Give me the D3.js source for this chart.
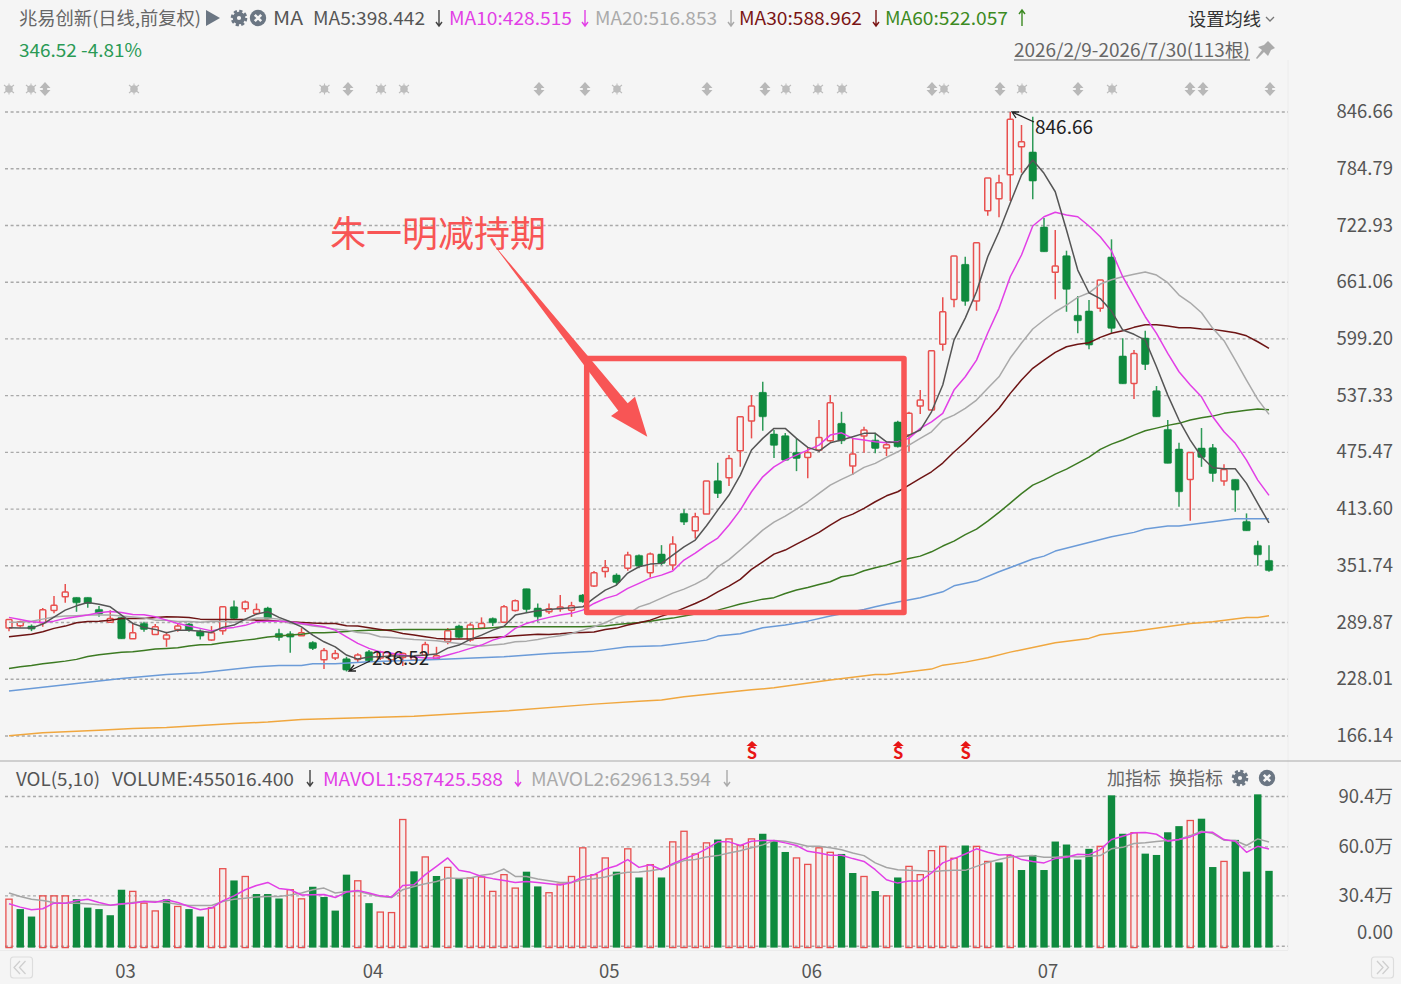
<!DOCTYPE html>
<html>
<head>
<meta charset="utf-8">
<script src="https://cdn.jsdelivr.net/npm/d3@7"></script>
<style>
  html, body { margin: 0; padding: 0; background: #f5f5f5; overflow: hidden; }
</style>
</head>
<body>
<div id="dataviz"></div>
<script>
// daily candles, values
const opens = [283.8,286.3,286.0,289.6,303.1,317.9,317.3,317.3,304.2,290.3,
  295.5,272.2,288.9,276.9,271.8,282.4,288.2,280.5,270.7,280.8,
  307.0,304.9,299.8,305.6,278.0,277.6,275.4,268.2,249.2,251.1,
  250.3,249.7,257.9,251.1,248.9,251.8,248.9,254.3,250.3,269.3,
  286.0,270.7,283.8,294.4,290.3,302.9,326.7,305.6,301.7,304.9,
  303.4,319.8,329.6,345.6,341.6,349.2,363.1,344.3,364.5,352.5,
  408.9,389.9,408.2,444.5,447.7,477.2,509.6,540.9,495.4,493.6,
  475.4,470.0,478.0,488.1,507.1,460.5,493.2,488.8,480.1,508.5,
  494.3,526.0,521.6,593.3,642.3,680.5,640.5,739.0,752.1,778.3,
  808.8,803.0,721.2,671.8,689.9,624.9,629.6,632.5,688.5,580.5,
  550.7,600.1,542.6,500.5,479.0,446.0,480.1,480.5,444.2,446.0,
  400.2,374.0,357.6];
const closes = [293.3,290.7,282.7,303.8,308.6,323.1,311.4,310.7,299.1,294.4,
  272.2,278.7,282.4,285.2,276.2,286.0,281.6,275.1,278.7,307.0,
  294.4,312.2,304.2,294.4,273.6,274.0,278.7,261.7,259.5,256.2,
  238.0,254.4,248.1,257.6,254.4,256.2,252.1,266.0,253.6,280.8,
  273.7,287.1,288.9,289.6,307.0,313.6,304.2,296.1,304.9,306.7,
  308.1,312.5,344.1,349.9,333.6,363.4,351.4,364.5,354.4,375.4,
  399.4,405.2,444.2,430.7,468.9,514.3,526.0,514.3,483.1,467.0,
  468.9,475.4,491.8,529.6,488.1,473.6,499.8,479.8,483.8,481.6,
  518.0,532.5,586.3,628.8,689.6,640.2,704.1,774.7,769.5,838.7,
  814.3,771.4,694.3,678.7,653.3,619.0,592.5,663.4,610.7,550.3,
  583.4,571.4,514.3,463.5,432.5,475.4,470.0,452.5,456.9,434.3,
  390.0,363.8,346.52];
const highs = [293.3,291.8,287.8,305.6,318.7,331.8,317.3,317.3,307.8,303.4,
  295.5,289.6,290.7,288.2,279.8,288.9,289.6,282.4,286.0,307.0,
  314.0,314.0,310.7,307.0,283.0,280.5,283.8,269.6,262.0,259.8,
  252.5,256.5,259.8,259.0,256.5,257.3,253.0,268.8,263.4,283.8,
  287.4,289.3,295.5,295.5,308.9,315.1,326.7,310.7,310.7,319.8,
  312.5,321.0,346.0,358.0,343.5,367.0,364.0,366.2,374.3,384.1,
  413.3,409.5,444.2,464.1,472.5,514.3,537.9,552.5,499.8,496.5,
  490.7,480.1,510.7,537.9,519.7,491.0,503.4,496.8,486.0,509.9,
  519.7,543.4,586.3,644.5,689.6,688.8,704.1,774.7,778.3,846.66,
  832.5,841.5,731.0,717.9,695.4,645.9,641.6,663.4,707.8,599.8,
  587.0,608.1,547.8,510.7,485.9,475.4,502.0,484.5,462.4,446.0,
  408.9,379.0,374.3];
const lows = [280.5,284.6,280.5,285.2,299.9,311.4,301.6,305.9,296.1,289.6,
  272.2,272.2,279.8,276.2,263.4,279.8,279.8,271.5,269.9,276.5,
  293.5,301.3,298.0,294.4,269.9,256.8,275.4,259.8,239.1,248.9,
  236.52,245.9,246.7,249.0,247.0,242.4,248.0,253.3,250.3,266.3,
  272.6,268.8,283.0,286.0,289.6,302.0,300.2,290.7,299.1,301.6,
  296.1,311.5,328.5,339.1,330.7,346.3,349.2,339.1,352.5,347.1,
  396.2,381.6,408.2,425.6,438.7,459.7,490.7,499.0,469.2,466.0,
  455.0,447.1,476.1,487.0,484.5,450.7,475.0,474.4,471.4,480.9,
  476.1,517.2,521.6,586.3,633.6,635.4,629.9,733.6,731.8,749.6,
  780.4,751.4,694.3,642.4,628.8,605.3,587.8,628.8,605.9,550.3,
  533.6,565.2,514.3,463.5,416.1,400.8,459.7,443.4,439.0,410.6,
  390.0,351.8,345.2];

// moving averages
const ma5 = [284.3,284.0,283.8,288.2,295.8,303.4,308.1,311.8,309.9,307.0,
  298.0,288.9,284.6,282.4,278.7,281.6,281.6,280.5,279.1,284.6,
  287.1,293.6,299.1,301.6,295.5,290.7,285.2,276.2,268.9,263.4,
  254.4,250.0,252.2,252.7,253.3,253.3,253.6,254.4,255.5,262.0,
  265.3,271.5,276.2,281.6,285.9,298.0,300.5,302.7,304.2,305.3,
  305.9,307.0,316.5,325.2,330.7,343.8,350.7,353.6,354.4,363.4,
  372.5,379.8,395.4,412.5,428.9,450.7,478.0,490.7,501.6,501.6,
  490.7,480.9,476.9,485.9,488.9,492.5,496.2,496.2,487.0,485.9,
  494.3,499.8,519.7,548.9,597.9,621.9,650.6,688.8,716.1,747.4,
  777.9,794.3,779.8,759.7,717.9,674.3,649.5,643.2,629.6,608.9,
  604.2,597.9,568.8,537.9,510.7,488.9,470.7,458.7,457.6,457.6,
  441.6,419.8,398.442];
const ma10 = [295.5,293.3,290.7,290.0,291.4,294.4,296.1,298.0,300.5,302.0,
  300.9,298.7,298.3,296.1,292.5,288.9,286.0,283.5,280.8,283.5,
  284.6,286.8,290.7,291.4,291.4,290.7,288.9,287.1,285.2,281.6,
  274.3,267.1,261.7,257.9,256.5,254.4,252.5,251.1,251.1,254.4,
  257.9,261.7,265.3,270.7,274.3,283.5,288.9,292.5,295.5,298.0,
  299.9,303.4,310.7,316.2,319.8,327.1,332.6,338.3,341.6,346.0,
  358.0,365.6,374.3,382.0,396.2,412.5,432.5,448.8,459.7,467.0,
  472.5,477.9,483.4,494.3,496.8,490.7,488.9,487.0,485.9,487.0,
  490.7,501.6,508.8,518.0,543.4,557.9,576.1,605.6,632.5,667.0,
  690.7,722.3,732.4,737.3,734.3,732.4,722.3,710.6,695.2,667.0,
  645.2,623.4,605.3,583.4,563.4,548.9,536.1,514.3,497.9,485.3,
  467.0,445.2,428.515];
const ma20 = [290.3,290.3,291.4,293.6,295.8,296.9,297.4,298.0,298.0,298.0,
  296.9,295.8,294.7,292.5,292.5,291.1,290.9,290.3,290.9,290.9,
  290.3,292.5,294.7,294.7,293.6,288.9,288.2,286.0,284.6,282.7,
  281.6,279.1,278.0,274.3,273.6,272.6,271.5,270.7,269.9,268.5,
  267.1,265.3,264.2,265.3,266.4,268.9,269.6,271.5,273.7,275.4,
  278.0,281.6,285.2,289.6,295.5,299.1,307.0,311.0,316.5,322.0,
  326.3,331.8,338.3,350.5,358.5,369.0,379.8,390.7,399.4,406.0,
  413.6,421.6,430.7,439.8,446.0,451.8,459.1,463.5,470.0,476.1,
  483.4,490.7,497.9,510.7,516.1,523.5,532.5,545.3,557.9,578.3,
  594.7,610.0,619.8,628.8,636.1,644.5,649.5,659.0,663.7,667.0,
  669.6,672.1,668.8,660.5,647.0,638.6,627.7,610.7,597.2,576.1,
  554.3,533.3,516.853];
const ma30 = [274.3,275.8,277.2,279.8,283.5,286.0,289.6,291.1,291.4,292.5,
  294.4,294.4,294.4,295.5,296.1,295.8,295.5,293.6,293.3,293.3,
  293.3,293.3,292.5,292.5,291.4,290.7,290.0,289.3,288.9,288.9,
  286.3,286.0,284.1,282.4,280.8,278.0,276.2,274.3,272.6,271.8,
  271.8,272.1,272.9,273.6,274.3,275.4,276.2,277.2,276.9,277.6,
  278.7,279.1,279.5,282.4,283.8,287.1,289.6,292.5,296.9,300.5,
  305.6,310.7,316.2,323.4,329.6,336.9,347.8,356.1,364.5,368.9,
  375.4,381.6,388.2,396.2,403.5,408.1,414.4,421.6,428.1,432.5,
  439.8,447.1,454.3,463.8,475.8,486.7,498.7,510.7,523.5,539.8,
  554.3,567.1,576.1,584.5,590.6,593.3,595.0,600.9,605.3,608.1,
  611.8,614.6,614.6,613.2,611.4,611.4,610.0,609.6,607.8,605.9,
  602.6,596.1,588.962];
const ma60 = [239.8,241.6,243.1,244.9,246.4,247.8,249.7,252.9,254.7,256.2,
  257.6,257.9,259.5,260.9,261.7,262.3,264.2,265.6,266.0,267.8,
  269.3,270.7,272.1,274.0,275.1,276.2,277.2,278.7,278.7,279.4,
  280.2,280.8,281.6,281.6,282.1,282.4,282.4,282.4,282.4,282.4,
  282.7,282.7,283.3,284.3,285.2,285.2,285.2,285.2,285.2,285.2,
  285.2,285.2,285.7,286.0,287.8,288.9,290.0,291.4,293.1,294.7,
  296.9,299.1,301.3,303.4,306.7,310.0,312.7,315.4,317.0,321.6,
  325.3,328.2,331.4,334.3,339.8,341.6,346.3,349.6,352.5,356.1,
  359.8,362.3,367.0,373.3,378.7,385.8,391.8,400.5,410.0,420.1,
  430.5,439.8,445.2,451.8,457.2,463.8,470.3,478.7,484.5,488.9,
  494.3,499.0,501.9,504.9,507.1,510.7,513.2,515.0,518.0,519.7,
  521.3,522.7,522.057];

// the two slow lines are smooth, read at these days only
const maBlueDays = [0,4,6,8,10,14,17,22,24,26,27,29,32,38,44,48,52,55,58,62,63,65,67,69,71,73,76,77,78,79,81,83,84,86,88,91,92,93,98,100,101,103,104,107,109,112];
const maBlue = [215.1,220.8,223.5,226.0,228.9,233.3,235.0,241.6,243.1,243.1,244.9,244.9,247.0,249.7,252.5,256.2,258.7,263.4,264.5,270.7,275.1,277.6,284.1,287.1,291.4,296.9,304.2,307.0,309.9,312.2,316.9,323.4,329.9,335.1,345.2,359.1,362.3,367.8,383.4,388.2,391.8,395.1,395.1,399.8,403.0,403.0];
const maOrangeDays = [0,3,6,8,11,14,17,20,23,26,29,36,44,52,56,58,60,66,68,73,77,78,82,83,85,87,89,91,93,96,97,100,105,107,110,111,112];
const maOrange = [166.3,169.6,171.4,172.5,174.4,175.5,177.7,179.8,181.3,184.2,185.3,187.8,193.3,200.9,204.1,205.3,208.9,216.5,218.7,227.1,233.3,233.3,239.1,243.4,246.7,251.4,257.6,262.7,267.8,272.6,276.5,280.5,288.9,290.7,295.5,295.5,297.2];

// volume in 万, 1 = red bar, 0 = green bar
const volumes = [28.4,22.4,17.9,30.4,30.4,30.4,28.4,23.3,22.4,18.7,
  34.1,33.1,26.0,21.3,28.4,24.0,22.4,17.9,23.2,46.8,
  39.7,42.1,31.5,31.5,28.8,34.1,28.6,35.9,29.7,21.5,
  43.2,39.5,26.0,20.6,20.3,76.5,45.2,53.9,42.4,47.6,
  40.6,41.2,41.8,33.1,43.2,35.1,45.0,36.1,32.3,37.5,
  42.1,59.4,43.2,53.3,45.0,58.8,41.5,49.2,41.5,63.0,
  69.4,55.7,62.4,64.4,64.8,60.8,64.8,67.9,63.8,56.9,
  53.3,49.4,59.4,56.7,55.7,44.2,42.1,33.3,30.4,41.5,
  48.2,43.2,57.7,60.3,53.1,60.8,60.3,51.2,50.6,54.7,
  46.0,55.1,46.0,63.2,61.4,52.3,58.8,60.3,91.1,67.9,
  68.5,55.9,55.1,68.8,72.5,75.9,77.0,47.8,51.2,64.2,
  45.0,91.7,45.5];
const volUp = [1,0,0,1,1,1,0,0,0,0,
  0,1,1,1,0,1,0,0,1,1,
  0,1,0,0,0,1,1,0,0,0,
  0,1,0,1,1,1,0,1,0,1,
  0,1,1,1,1,1,0,0,1,1,
  1,1,1,1,0,1,0,1,0,1,
  1,1,1,0,1,1,1,0,0,0,
  1,1,1,1,0,0,1,0,1,0,
  1,1,1,1,1,0,1,1,0,1,
  0,0,0,0,0,0,0,1,0,0,
  1,0,0,0,0,1,0,0,1,0,
  0,0,0];
const mavol1 = [25.6,23.6,22.0,22.6,26.0,26.0,27.4,28.4,26.4,24.8,
  25.6,26.0,27.0,26.6,28.0,26.4,24.0,22.0,23.0,27.4,
  30.4,34.1,36.7,38.5,34.9,34.1,30.9,31.0,31.2,29.4,
  32.7,33.7,32.1,30.4,29.7,36.7,37.1,43.2,48.2,53.3,
  45.8,44.6,42.1,40.8,39.7,38.5,39.1,38.5,37.7,36.9,
  38.5,41.8,43.2,46.6,48.6,52.3,47.6,49.2,46.2,49.8,
  52.7,55.3,58.8,63.0,63.0,60.8,63.4,63.8,63.8,62.4,
  60.8,57.3,56.3,54.9,54.9,52.9,51.2,46.2,40.1,38.1,
  39.4,39.4,44.2,50.3,52.9,55.7,58.8,56.7,55.1,55.3,
  52.3,51.2,50.3,52.9,53.7,55.5,55.3,58.3,64.4,66.4,
  68.5,68.6,67.6,63.4,64.4,66.0,68.8,68.8,64.4,63.4,
  56.7,60.3,58.74];
const mavol2 = [32.1,30.0,28.4,27.6,26.4,26.0,26.0,25.6,25.0,24.8,
  25.4,26.4,27.2,27.0,26.4,25.4,24.6,24.6,24.6,27.0,
  28.4,29.0,29.7,30.0,30.0,30.9,32.1,34.1,35.1,32.1,
  33.1,33.1,31.5,30.0,29.4,34.1,36.1,37.7,39.1,41.2,
  40.9,41.2,42.8,43.8,46.6,42.1,42.1,40.6,39.5,38.5,
  38.5,40.1,40.8,41.8,43.6,44.6,44.8,45.6,46.6,49.2,
  51.7,52.3,53.9,54.7,56.3,57.7,59.4,61.2,63.8,63.4,
  62.0,60.3,60.3,59.4,58.3,56.3,54.7,50.3,47.5,46.2,
  45.8,45.6,45.0,45.6,45.8,45.8,48.2,50.6,52.3,53.9,
  54.3,54.7,53.7,53.7,54.3,53.9,54.3,54.7,58.8,59.7,
  62.0,62.4,63.2,63.8,64.4,66.8,69.4,68.0,64.0,63.8,
  60.8,64.8,62.96];

// axis labels
const priceTicks = [846.66,784.79,722.93,661.06,599.20,537.33,475.47,413.60,351.74,289.87,228.01,166.14];
const volTicks = [90.4,60.0,30.4,0];
const monthLabels = ["03","04","05","06","07"];
const monthDays = [10,32,53,71,92];
// days with the red S flags
const sFlagDays = [66,79,85];

const W = 1401, H = 984;
const BG = "#f5f5f5", RED = "#e8504f", GREEN = "#0f8a3e", MARK = "#f85555", ICON = "#6b7683";
const FONT = "'Noto Sans CJK SC','Noto Sans',sans-serif";

const svg = d3.select("#dataviz").append("svg")
  .attr("width", W).attr("height", H)
  .style("display", "block")
  .style("font-family", FONT);
svg.append("rect").attr("width", W).attr("height", H).attr("fill", BG);

// scales
const x = d3.scaleLinear().domain([0, 112]).range([9, 1269]);
const y = d3.scaleLinear().domain([166.14, 846.66]).range([736, 112]);
const yVol = d3.scaleLinear().domain([0, 90.4]).range([946.2, 796.5]);
const days = d3.range(opens.length);

// panel frame lines
svg.append("line").attr("x1", 1288).attr("x2", 1288).attr("y1", 60).attr("y2", 950).attr("stroke", "#ececec");
svg.append("line").attr("x1", 0).attr("x2", W).attr("y1", 761).attr("y2", 761).attr("stroke", "#aaa").attr("stroke-width", 1.2);
svg.append("line").attr("x1", 0).attr("x2", 1288).attr("y1", 950.5).attr("y2", 950.5).attr("stroke", "#ebebeb");

// price axis and its dashed grid
const priceAxis = svg.append("g").attr("transform", "translate(1393,0)")
  .call(d3.axisRight(y).tickValues(priceTicks).tickSize(0).tickPadding(0).tickFormat(d3.format(".2f")));
priceAxis.select(".domain").remove();
priceAxis.selectAll("text").attr("text-anchor", "end").attr("font-size", 18.5).attr("fill", "#555").attr("font-family", FONT).attr("dy", "0.3em");

const volAxis = svg.append("g").attr("transform", "translate(1393,0)")
  .call(d3.axisRight(yVol).tickValues(volTicks).tickSize(0).tickPadding(0).tickFormat(d => d === 0 ? "0.00" : d.toFixed(1) + "万"));
volAxis.select(".domain").remove();
volAxis.selectAll("text").attr("text-anchor", "end").attr("font-size", 18.5).attr("fill", "#555").attr("font-family", FONT).attr("dy", "0.3em");
// the zero label sits above its line
volAxis.selectAll("text").filter(d => d === 0).attr("dy", "-0.4em");

svg.append("g").selectAll("line").data(priceTicks).join("line")
  .attr("x1", 5).attr("x2", 1288)
  .attr("y1", d => y(d)).attr("y2", d => y(d))
  .attr("stroke", "#a9a9a9").attr("stroke-width", 1.4).attr("stroke-dasharray", "3 2.6");
svg.append("g").selectAll("line").data(volTicks).join("line")
  .attr("x1", 5).attr("x2", 1288)
  .attr("y1", d => yVol(d)).attr("y2", d => yVol(d))
  .attr("stroke", "#a9a9a9").attr("stroke-width", 1.4).attr("stroke-dasharray", "3 2.6");

// month axis
const monthAxis = svg.append("g").attr("transform", "translate(3.5,959)")
  .call(d3.axisBottom(x).tickValues(monthDays).tickSize(0).tickPadding(0).tickFormat((d, i) => monthLabels[i]));
monthAxis.select(".domain").remove();
monthAxis.selectAll("text").attr("font-size", 18.5).attr("fill", "#555").attr("font-family", FONT).attr("dy", "1em");

// candles
const candles = svg.append("g").selectAll("g").data(days).join("g");
candles.append("line")
  .attr("x1", i => x(i)).attr("x2", i => x(i))
  .attr("y1", i => y(highs[i])).attr("y2", i => y(lows[i]))
  .attr("stroke", i => closes[i] >= opens[i] ? RED : "#2f9a58")
  .attr("stroke-width", 1.5);
candles.append("rect")
  .attr("x", i => x(i) - (closes[i] >= opens[i] ? 3 : 3.7))
  .attr("width", i => closes[i] >= opens[i] ? 6 : 7.4)
  .attr("y", i => y(Math.max(opens[i], closes[i])))
  .attr("height", i => Math.abs(y(opens[i]) - y(closes[i])))
  .attr("rx", 0.8)
  .attr("fill", i => closes[i] >= opens[i] ? BG : GREEN)
  .attr("stroke", i => closes[i] >= opens[i] ? RED : GREEN)
  .attr("stroke-width", i => closes[i] >= opens[i] ? 1.5 : 0.6);

// moving average lines
const maLine = d3.line().x((d, i) => x(i)).y(d => y(d));
const slowLine = daysList => d3.line().x((d, i) => x(daysList[i])).y(d => y(d));
const thin = (data, path, color) => svg.append("path").attr("d", path(data))
  .attr("fill", "none").attr("stroke", color).attr("stroke-width", 1.5).attr("stroke-linejoin", "round");
thin(maOrange, slowLine(maOrangeDays), "#f0a73f");
thin(maBlue, slowLine(maBlueDays), "#6b9bd8");
thin(ma60, maLine, "#3c7a22");
thin(ma30, maLine, "#6d1414");
thin(ma20, maLine, "#a9a9a9");
thin(ma10, maLine, "#e23fe6");
thin(ma5, maLine, "#555555");

// volume bars
svg.append("g").selectAll("rect").data(days).join("rect")
  .attr("x", i => x(i) - (volUp[i] ? 3.1 : 3.7))
  .attr("width", i => volUp[i] ? 6.2 : 7.4)
  .attr("y", i => yVol(volumes[i]))
  .attr("height", i => yVol(0) - yVol(volumes[i]) + 1.4)
  .attr("fill", i => volUp[i] ? "rgba(240,70,70,0.05)" : GREEN)
  .attr("stroke", i => volUp[i] ? RED : "none")
  .attr("stroke-width", 1.3);

const volLine = d3.line().x((d, i) => x(i)).y(d => yVol(d));
thin(mavol2, volLine, "#a5a5a5");
thin(mavol1, volLine, "#e23fe6");

// text helper, width pinned to what the picture measures
function label(txt, tx, ty, size, color, width) {
  const t = svg.append("text").attr("x", tx).attr("y", ty)
    .attr("dominant-baseline", "central")
    .attr("font-size", size).attr("fill", color).text(txt);
  if (width) t.attr("textLength", width).attr("lengthAdjust", "spacingAndGlyphs");
  return t;
}
function arrow(ax, ay, up, color) {
  const dir = up ? -1 : 1;
  svg.append("path")
    .attr("d", `M${ax},${ay - 8 * dir}L${ax},${ay + 8 * dir}M${ax - 3},${ay + 4 * dir}L${ax},${ay + 8 * dir}L${ax + 3},${ay + 4 * dir}`)
    .attr("fill", "none").attr("stroke", color).attr("stroke-width", 1.4);
}
function gear(gx, gy) {
  svg.append("circle").attr("cx", gx).attr("cy", gy).attr("r", 4.2).attr("fill", "none").attr("stroke", ICON).attr("stroke-width", 4.2);
  svg.append("circle").attr("cx", gx).attr("cy", gy).attr("r", 7).attr("fill", "none").attr("stroke", ICON).attr("stroke-width", 2.6).attr("stroke-dasharray", "3.2 2.3");
}
function closeIcon(cx, cy) {
  svg.append("circle").attr("cx", cx).attr("cy", cy).attr("r", 8.2).attr("fill", ICON);
  svg.append("path").attr("d", `M${cx - 3.2},${cy - 3.2}L${cx + 3.2},${cy + 3.2}M${cx + 3.2},${cy - 3.2}L${cx - 3.2},${cy + 3.2}`)
    .attr("stroke", BG).attr("stroke-width", 2.6);
}

// top legend
label("兆易创新(日线,前复权)", 19, 17, 18, "#666", 182);
svg.append("path").attr("d", "M206,10L220,18L206,26Z").attr("fill", ICON);
gear(239, 18);
closeIcon(258, 18);
label("MA", 273, 17, 18, "#555", 30);
label("MA5:398.442", 313, 17, 18, "#555", 112);
arrow(439, 18, false, "#444");
label("MA10:428.515", 449, 17, 18, "#e23fe6", 123);
arrow(585, 18, false, "#e23fe6");
label("MA20:516.853", 595, 17, 18, "#aaa", 122);
arrow(731, 18, false, "#aaa");
label("MA30:588.962", 739, 17, 18, "#7a1414", 123);
arrow(876, 18, false, "#7a1414");
label("MA60:522.057", 885, 17, 18, "#3c8a22", 123);
arrow(1022, 18, true, "#3c8a22");
label("设置均线", 1188, 18, 18, "#333", 73);
svg.append("path").attr("d", "M1266,17L1270,21L1274,17").attr("fill", "none").attr("stroke", "#777").attr("stroke-width", 1.3);
label("346.52 -4.81%", 19, 49, 18, "#2a9a55", 123);
label("2026/2/9-2026/7/30(113根)", 1014, 49, 18, "#666", 236);
svg.append("line").attr("x1", 1014).attr("x2", 1250).attr("y1", 60).attr("y2", 60).attr("stroke", "#666").attr("stroke-width", 1.2);
// pin
svg.append("path").attr("d", "M1268,41L1275,48L1271,50L1268,56L1264,52L1257,59L1256,58L1262,50L1258,47L1264,45Z").attr("fill", "#aaa");

// grey event icons along the top of the price panel
const starX = [9,31,134,324.5,381,404,617,786,818,842,944,1022,1112];
const updownX = [45,348,539,585,707,765,932,1000,1078,1190,1203,1270];
starX.forEach(sx => {
  svg.append("circle").attr("cx", sx).attr("cy", 89).attr("r", 3.8).attr("fill", "#bdbdbd");
  svg.append("path").attr("d", `M${sx - 5},${89 - 4}L${sx + 5},${89 + 4}M${sx + 5},${89 - 4}L${sx - 5},${89 + 4}M${sx},${89 - 5.5}L${sx},${89 + 5.5}`)
    .attr("stroke", "#bdbdbd").attr("stroke-width", 1.1);
});
updownX.forEach(ux => {
  svg.append("path").attr("d", `M${ux},82L${ux + 5.5},88L${ux + 2.2},88L${ux + 2.2},90L${ux + 5.5},90L${ux},96L${ux - 5.5},90L${ux - 2.2},90L${ux - 2.2},88L${ux - 5.5},88Z`)
    .attr("fill", "#b8b8b8");
});

// red S flags along the bottom of the price panel
sFlagDays.forEach(d => {
  const fx = x(d) + 0.5;
  svg.append("path").attr("d", `M${fx - 5.5},746L${fx},741L${fx + 5.5},746Z`).attr("fill", "#e81515");
  label("S", fx, 751.5, 16.5, "#e81515").attr("font-weight", 700).attr("text-anchor", "middle");
});

// high and low callouts
const callout = "#222";
svg.append("path").attr("d", "M1034,122L1012,112M1019,112L1012,112L1016,118")
  .attr("fill", "none").attr("stroke", callout).attr("stroke-width", 1.3);
label("846.66", 1035, 126, 18.5, callout, 58);
svg.append("path").attr("d", "M370,661L349,671M356,671L349,671L354,665")
  .attr("fill", "none").attr("stroke", callout).attr("stroke-width", 1.3);
label("236.52", 372, 656.5, 18.5, callout, 57);

// hand drawn annotation on top of the chart
label("朱一明减持期", 330, 230.5, 36, MARK, 216);
svg.append("rect").attr("x", 586.7).attr("y", 358.5).attr("width", 317.3).attr("height", 254)
  .attr("fill", "none").attr("stroke", MARK).attr("stroke-width", 5.5).attr("stroke-linejoin", "round");
svg.append("path")
  .attr("d", "M490,240L627.7,403.3L635,396.7L647.3,436.7L611,416L618.3,410.7Z")
  .attr("fill", MARK);

// volume panel legend
label("VOL(5,10)", 16, 778, 18, "#555", 84);
label("VOLUME:455016.400", 112, 778, 18, "#555", 182);
arrow(310, 778, false, "#444");
label("MAVOL1:587425.588", 323, 778, 18, "#e23fe6", 180);
arrow(518, 778, false, "#e23fe6");
label("MAVOL2:629613.594", 531, 778, 18, "#aaa", 180);
arrow(727, 778, false, "#aaa");
label("加指标", 1107, 777, 18, "#666", 54);
label("换指标", 1169, 777, 18, "#666", 54);
gear(1240, 778);
closeIcon(1267, 778);

// paging buttons, double chevrons
[[10.5, -1], [1371.5, 1]].forEach(([bx, dir]) => {
  svg.append("rect").attr("x", bx).attr("y", 957).attr("width", 22).attr("height", 21).attr("rx", 3)
    .attr("fill", "none").attr("stroke", "#ddd").attr("stroke-width", 1.2);
  const cx = bx + 11;
  [-3.5, 2].forEach(off => {
    const tip = cx + off + dir * 4;
    const tail = cx + off - dir * 2;
    svg.append("path").attr("d", `M${tail},961L${tip},967.5L${tail},974`)
      .attr("fill", "none").attr("stroke", "#cfcfcf").attr("stroke-width", 1.3);
  });
});
</script>
</body>
</html>
